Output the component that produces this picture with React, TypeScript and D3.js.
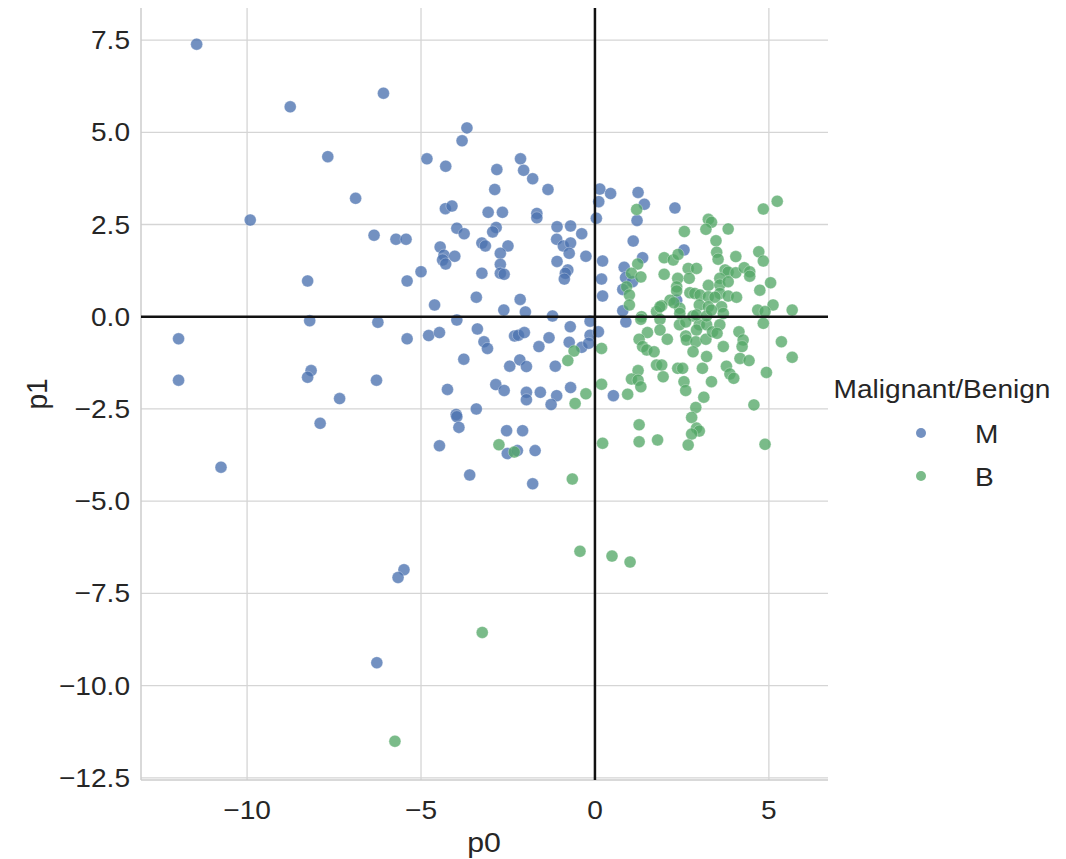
import React from "react";
import * as d3 from "d3";

const mX = [-11.45,-8.76,-6.08,-7.68,-4.83,-6.88,-9.91,-6.35,-5.72,-5.43,-4.45,-5.0,-8.26,-5.40,-4.61,-8.2,-6.24,-11.97,-11.97,-5.40,-4.78,-4.47,-8.16,-8.26,-6.28,-7.34,-7.90,-10.75,-4.47,-5.49,-5.66,-6.27,-1.79,-3.60,-3.68,-3.82,-4.29,-2.82,-2.14,-2.05,-1.79,-1.35,-2.88,-4.30,-4.11,-3.07,-2.66,-1.67,-1.67,-2.84,-2.94,-3.97,-3.76,-3.25,-3.15,-2.5,-4.34,-4.03,-4.38,-4.29,-2.72,-2.72,-2.72,-2.61,-3.25,-3.41,-2.15,-2.62,-2.0,-1.22,-3.97,-1.09,-0.70,-0.38,-1.10,-0.91,-0.70,-0.74,-0.26,-1.09,-0.78,-0.85,-0.88,0.14,0.45,0.11,0.04,-3.38,-3.19,-3.09,-2.31,-2.2,-2.03,-1.32,-1.61,-0.71,-0.14,-0.14,-0.74,-0.38,-0.18,-3.77,-2.45,-2.16,-1.97,-1.14,-4.24,-2.85,-2.61,-1.97,-1.97,-1.57,-1.10,-1.26,-0.70,-3.41,-3.99,-3.97,-3.91,-2.54,-2.08,-2.52,-2.23,-1.72,1.24,1.42,2.30,1.21,1.10,0.22,2.56,1.37,0.84,0.19,0.88,1.08,0.80,0.22,2.35,0.80,0.10,0.89,0.53];
const mY = [7.39,5.69,6.06,4.34,4.28,3.21,2.62,2.21,2.10,2.10,1.89,1.22,0.97,0.97,0.32,-0.11,-0.15,-0.60,-1.72,-0.60,-0.51,-0.43,-1.46,-1.64,-1.72,-2.22,-2.89,-4.08,-3.50,-6.86,-7.07,-9.38,-4.53,-4.29,5.12,4.77,4.08,3.99,4.28,3.97,3.74,3.45,3.45,2.93,3.0,2.83,2.83,2.80,2.68,2.42,2.30,2.40,2.25,2.0,1.92,1.92,1.67,1.64,1.54,1.43,1.72,1.42,1.18,1.15,1.18,0.53,0.47,0.18,0.13,0.02,-0.09,2.44,2.46,2.25,2.10,1.92,2.0,1.72,1.64,1.50,1.27,1.18,1.02,3.46,3.34,3.12,2.67,-0.33,-0.68,-0.86,-0.52,-0.50,-0.43,-0.57,-0.81,-0.27,-0.12,-0.50,-0.69,-0.83,-0.72,-1.15,-1.34,-1.17,-1.35,-1.34,-1.97,-1.84,-2.0,-2.05,-2.25,-2.05,-2.14,-2.38,-1.92,-2.50,-2.65,-2.71,-3.0,-3.09,-3.09,-3.71,-3.63,-3.63,3.37,3.05,2.95,2.61,2.05,1.51,1.81,1.60,1.34,1.02,1.06,0.95,0.74,0.56,0.45,0.16,-0.41,-0.14,-2.14];

const bX = [-5.75,-3.24,-0.43,0.49,1.01,-0.65,-0.60,-0.78,-0.26,-0.57,-2.76,-2.32,0.19,0.22,1.20,5.24,4.84,3.26,3.35,3.19,3.83,2.57,3.48,3.50,3.54,4.71,4.84,4.05,1.99,2.25,2.39,1.23,1.05,1.32,1.99,2.68,2.92,2.38,2.71,3.74,3.83,4.05,4.29,4.45,4.45,5.05,4.74,3.59,3.26,3.59,3.83,2.35,2.35,0.91,0.99,0.99,2.73,2.87,3.02,3.59,3.83,4.07,3.26,3.45,2.16,1.92,1.77,2.44,3.0,3.26,3.64,4.68,5.12,5.67,1.34,2.82,0.19,1.32,1.87,1.87,1.51,1.27,1.37,1.49,1.70,2.08,2.43,2.61,3.0,2.92,2.61,2.63,2.90,3.19,3.21,3.38,3.59,3.51,3.69,2.82,3.21,4.14,4.26,4.23,4.17,4.43,4.84,5.36,5.67,4.93,3.78,3.88,3.99,3.35,3.09,2.38,2.52,1.77,1.92,1.96,1.24,1.05,1.24,1.32,2.56,2.61,0.94,3.13,2.90,4.57,2.78,2.92,3.0,2.78,2.68,1.27,1.27,1.80,4.89,1.87,2.27,2.44,2.92,3.21,3.35,3.69,4.89];
const bY = [-11.51,-8.56,-6.36,-6.49,-6.65,-4.40,-0.93,-1.19,-2.09,-2.35,-3.47,-3.67,-1.83,-3.43,2.91,3.13,2.92,2.64,2.56,2.37,2.38,2.31,2.06,1.75,1.56,1.76,1.51,1.63,1.60,1.54,1.69,1.43,1.18,1.08,1.15,1.31,1.31,1.04,1.04,1.27,1.21,1.19,1.33,1.22,1.10,0.92,0.72,1.04,0.85,0.86,0.95,0.81,0.70,0.81,0.59,0.32,0.65,0.63,0.59,0.63,0.56,0.53,0.54,0.53,0.45,0.30,0.14,0.23,0.32,0.27,0.27,0.18,0.32,0.18,0.0,0.02,-0.86,-0.07,-0.07,-0.36,-0.43,-0.61,-0.81,-0.90,-0.95,-0.61,-0.22,-0.14,-0.22,-0.36,-0.52,-0.63,-0.68,-0.61,-0.22,-0.41,-0.22,-0.45,-0.81,-0.95,-1.08,-0.41,-0.63,-0.81,-1.13,-1.19,-0.18,-0.68,-1.10,-1.51,-1.34,-1.55,-1.67,-1.76,-1.40,-1.40,-1.40,-1.31,-1.31,-1.63,-1.46,-1.69,-1.72,-1.90,-1.76,-2.0,-2.10,-2.18,-2.46,-2.39,-2.73,-3.02,-3.10,-3.18,-3.48,-2.93,-3.39,-3.34,-3.46,0.27,0.38,0.09,0.05,0.02,0.18,0.09,0.14];

const xTicks = [-10, -5, 0, 5];
const yTicks = [7.5, 5.0, 2.5, 0.0, -2.5, -5.0, -7.5, -10.0, -12.5];
const categories = ["M", "B"];
const colors = ["#4C72B0", "#55A868"];

const fmt = (v: number) => (v < 0 ? "\u2212" + Math.abs(v) : String(v));
const fmtY = (v: number) => (v < 0 ? "\u2212" + Math.abs(v).toFixed(1) : v.toFixed(1));

const FONT = "'Liberation Sans', Arial, sans-serif";
const SX = 1.08;
const FS = 26;

function T({ x, y, anchor, children, size = FS, rotate = 0 }: any) {
  return (
    <text
      transform={`translate(${x},${y}) rotate(${rotate}) scale(${rotate ? 1 : SX},${rotate ? SX : 1})`}
      textAnchor={anchor}
      fontFamily={FONT}
      fontSize={size}
      fill="#262626"
    >
      {children}
    </text>
  );
}

export default function App() {
  const W = 1066, H = 859;
  const x = d3.scaleLinear().domain([-13.05, 6.7]).range([141, 828]);
  const y = d3.scaleLinear().domain([-12.56, 8.37]).range([780, 8]);
  const series = [
    { xs: mX, ys: mY, c: colors[0] },
    { xs: bX, ys: bY, c: colors[1] },
  ];
  return (
    <svg width={W} height={H} style={{ position: "absolute", left: 0, top: 0 }}>
      <rect width={W} height={H} fill="#fff" />
      {xTicks.map((t) => (
        <line key={"gx" + t} x1={x(t)} x2={x(t)} y1={8} y2={780} stroke="#d5d5d5" strokeWidth={1.3} />
      ))}
      {yTicks.map((t) => (
        <line key={"gy" + t} x1={141} x2={828} y1={y(t)} y2={y(t)} stroke="#d5d5d5" strokeWidth={1.3} />
      ))}
      <line x1={141} x2={141} y1={8} y2={780} stroke="#cccccc" strokeWidth={1.5} />
      <line x1={141} x2={828} y1={780} y2={780} stroke="#cccccc" strokeWidth={1.5} />
      {series.map((s, si) =>
        s.xs.map((v, i) => (
          <circle key={si + "-" + i} cx={x(v)} cy={y(s.ys[i])} r={6} fill={s.c} fillOpacity={0.78} stroke="#fff" strokeOpacity={0.5} strokeWidth={0.6} />
        ))
      )}
      <line x1={x(0)} x2={x(0)} y1={8} y2={780} stroke="#111" strokeWidth={2.5} />
      <line x1={141} x2={828} y1={y(0)} y2={y(0)} stroke="#111" strokeWidth={2.5} />
      {xTicks.map((t) => (
        <T key={"tx" + t} x={x(t)} y={819} anchor="middle">{fmt(t)}</T>
      ))}
      {yTicks.map((t) => (
        <T key={"ty" + t} x={130} y={y(t) + 9} anchor="end">{fmtY(t)}</T>
      ))}
      <T x={484} y={852} anchor="middle" size={28}>p0</T>
      <T x={47} y={394} anchor="middle" rotate={-90} size={28}>p1</T>
      <T x={942} y={398} anchor="middle" size={26}>Malignant/Benign</T>
      {categories.map((c, i) => (
        <g key={c}>
          <circle cx={921} cy={433 + i * 43} r={5} fill={colors[i]} fillOpacity={0.78} />
          <T x={975} y={443 + i * 43} anchor="start">{c}</T>
        </g>
      ))}
    </svg>
  );
}
